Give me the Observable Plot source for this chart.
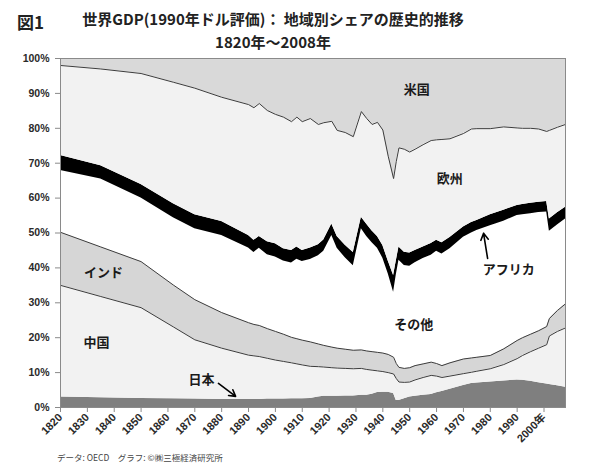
<!DOCTYPE html>
<html><head><meta charset="utf-8">
<script src="https://cdn.jsdelivr.net/npm/d3@7"></script>
<script src="https://cdn.jsdelivr.net/npm/@observablehq/plot@0.6"></script>
<style>
body{margin:0;background:#fff;font-family:"Noto Sans CJK JP","Noto Sans",sans-serif;}
#wrap{position:relative;width:610px;height:465px;overflow:hidden;background:#fff;}
#fig{position:absolute;left:17px;top:9px;font-size:17px;font-weight:bold;color:#222;}
#title{position:absolute;left:0;width:546px;top:7px;text-align:center;font-size:15px;font-weight:bold;line-height:23px;color:#222;}
#chart{position:absolute;left:0;top:52px;}
#foot{position:absolute;left:57px;top:451px;font-size:8.5px;color:#444;}
</style></head>
<body><div id="wrap">
<div id="fig">図1</div>
<div id="title">世界GDP(1990年ドル評価)： 地域別シェアの歴史的推移<br>1820年～2008年</div>
<div id="chart"></div>
<div id="foot">データ: OECD　グラフ: ©㈱三極経済研究所</div>
</div>
<script>
const years = [1820,1835,1850,1862,1870,1880,1890,1892,1894,1897,1900,1903,1906,1908,1910,1913,1916,1918,1921,1923,1926,1929,1932,1934,1936,1938,1940,1942,1944,1945,1946,1948,1950,1952,1955,1958,1960,1962,1965,1970,1973,1975,1980,1985,1990,1992,1995,1998,2001,2002,2005,2008];
const regions = ["日本","中国","インド","その他","アフリカ","欧州","米国"];
const fills = ["#7f7f7f","#f2f2f2","#d6d6d6","#ffffff","#000000","#f2f2f2","#d9d9d9"];
// shares of world GDP (%)
const japan  = [3.0,2.8,2.6,2.5,2.4,2.3,2.3,2.3,2.3,2.4,2.4,2.4,2.5,2.5,2.5,2.6,3.0,3.2,3.2,3.2,3.3,3.3,3.5,3.5,3.8,4.3,4.4,4.4,4.0,2.0,2.0,2.5,3.0,3.2,3.5,3.7,4.2,4.6,5.2,6.3,6.9,7.0,7.3,7.6,7.9,7.8,7.5,7.1,6.7,6.6,6.2,5.8];
const china  = [32.0,29.0,26.0,20.6,17.0,14.7,12.7,12.5,12.3,11.7,11.2,10.8,10.3,10.0,9.7,9.2,8.7,8.4,8.2,8.1,7.9,7.8,7.7,7.4,6.9,6.2,5.9,5.6,5.6,6.3,5.3,4.7,4.3,4.7,5.1,5.5,4.8,4.0,3.8,3.4,3.2,3.4,3.8,4.7,6.1,7.1,8.5,9.9,11.3,13.9,15.6,17.0];
const india  = [15.2,14.2,13.2,12.0,11.5,10.2,9.3,9.0,8.9,8.5,8.2,7.8,7.3,7.2,7.1,7.0,6.5,6.2,5.9,5.7,5.5,5.3,5.3,5.3,5.3,5.3,5.3,5.2,4.8,4.3,4.2,4.0,4.1,4.1,3.9,3.8,3.6,3.4,3.8,4.2,4.1,4.0,3.8,4.5,5.2,5.1,5.0,5.0,5.2,5.0,6.0,6.9];
const others = [17.7,19.5,18.2,19.3,20.3,22.1,21.4,20.6,22.1,21.2,21.3,21.0,21.3,22.8,22.5,23.6,25.3,27.0,32.0,28.6,26.2,24.2,34.7,32.8,31.2,29.8,27.2,23.1,18.6,25.4,30.7,29.5,29.1,29.5,30.2,30.6,32.2,32.0,32.7,34.9,35.8,36.3,37.2,36.6,35.8,35.2,34.5,33.9,32.8,25.0,24.5,24.3];
const africa = [4.3,3.8,3.9,4.0,4.0,4.0,3.6,3.5,3.4,3.7,3.8,3.5,3.6,3.5,3.2,3.3,3.1,3.2,3.3,3.4,3.6,3.8,3.3,3.5,3.4,3.4,3.6,3.7,4.8,4.0,3.8,3.8,3.8,3.5,3.3,3.4,3.1,3.2,3.2,2.9,3.0,2.9,3.1,3.1,2.9,3.0,3.0,2.9,3.0,3.5,3.5,3.4];
const europe = [25.8,27.7,31.8,34.8,36.3,35.6,37.5,38.0,38.1,37.6,37.1,37.7,36.9,37.2,36.9,37.1,34.5,33.6,29.4,30.4,32.3,33.2,30.3,30.3,30.5,32.7,33.1,30.0,27.8,28.5,28.4,29.5,28.9,29.0,29.3,29.5,28.8,29.6,28.3,26.8,26.8,26.3,24.7,23.9,22.2,21.8,21.5,21.0,20.1,25.4,24.5,23.7];
const usa    = [2.0,3.0,4.3,6.8,8.5,11.1,13.2,14.1,12.9,14.9,16.0,16.8,18.1,16.8,18.1,17.2,18.9,18.4,18.0,20.6,21.2,22.4,15.2,17.2,18.9,18.3,20.5,28.0,34.4,29.5,25.6,26.0,26.8,26.0,24.7,23.5,23.3,23.2,23.0,21.5,20.2,20.1,20.1,19.6,19.9,20.0,20.0,20.2,20.9,20.6,19.7,18.9];
const xTicks = [1820,1830,1840,1850,1860,1870,1880,1890,1900,1910,1920,1930,1940,1950,1960,1970,1980,1990,2000];
const xTickLabels = ["1820","1830","1840","1850","1860","1870","1880","1890","1900","1910","1920","1930","1940","1950","1960","1970","1980","1990","2000年"];
const yTicks = [0,10,20,30,40,50,60,70,80,90,100];
const labelText = ["米国","欧州","アフリカ","その他","インド","中国","日本"];
const labelYear = [1952.6,1964.9,1986.9,1951.5,1836,1833.4,1872.5];
const labelPct  = [91.1,65.6,39.5,23.8,38.7,18.6,8.0];
const arrowFrom = [[1979,42.7],[1878.8,6.9]];
const arrowTo   = [[1977.5,49.9],[1885.2,3.2]];

const series = [japan,china,india,others,africa,europe,usa];
const long = years.flatMap((yr,i) => regions.map((r,k) => ({year: yr, region: r, value: series[k][i]})));
const outlined = ["中国","インド","欧州"];
const labels = labelText.map((t,i) => ({t, x: labelYear[i], y: labelPct[i]}));
const arrows = arrowFrom.map((a,i) => ({x1:a[0], y1:a[1], x2:arrowTo[i][0], y2:arrowTo[i][1]}));
const font = "'Liberation Sans','Noto Sans CJK JP',sans-serif";

const chart = Plot.plot({
  width: 610, height: 400,
  marginLeft: 60, marginRight: 45, marginTop: 6, marginBottom: 45,
  x: {domain: [1820, 2008]},
  y: {domain: [0, 100]},
  color: {domain: regions, range: fills},
  style: {fontFamily: font, background: "transparent", overflow: "visible"},
  marks: [
    Plot.areaY(long, {x: "year", y: "value", z: "region", fill: "region", order: regions}),
    Plot.lineY(long, Plot.filter(d => outlined.includes(d.region),
      Plot.stackY2({x: "year", y: "value", z: "region", order: regions, stroke: "#3c3c3c", strokeWidth: 1}))),
    Plot.frame({stroke: "#8a8a8a"}),
    Plot.axisY({ticks: yTicks, tickFormat: d => d + "%", tickSize: 5, tickPadding: 6, label: null,
      fontSize: 10.5, fontWeight: "bold", fill: "#2a2a2a", stroke: "#8a8a8a"}),
    Plot.axisX({ticks: xTicks, tickFormat: (d,i) => xTickLabels[xTicks.indexOf(d)], tickRotate: -45, tickSize: 5, tickPadding: 3, label: null,
      fontSize: 11, fontWeight: "bold", fill: "#2a2a2a", stroke: "#8a8a8a"}),
    Plot.text(labels, {x: "x", y: "y", text: "t", fontSize: 13, fontWeight: "bold", fill: "#1a1a1a",
      fontFamily: "'Noto Sans CJK JP',sans-serif"}),
    Plot.arrow(arrows, {x1: "x1", y1: "y1", x2: "x2", y2: "y2", stroke: "#000", strokeWidth: 1.6, headLength: 7})
  ]
});
document.getElementById("chart").appendChild(chart);
</script>
</body></html>
